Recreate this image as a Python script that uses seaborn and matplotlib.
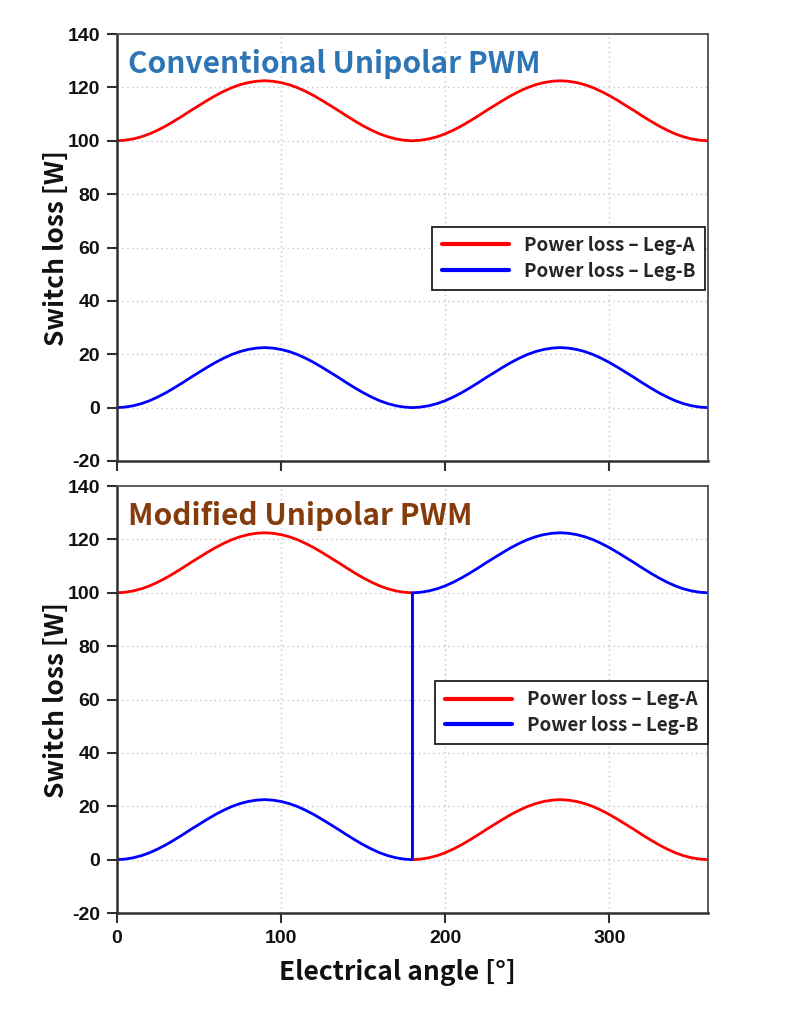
import matplotlib
matplotlib.use("Agg")
import matplotlib.pyplot as plt
import seaborn as sns
import pandas as pd

# ---------------- data (5 degree steps) ----------------
angle = list(range(0, 365, 5))

conv_leg_a = [100.0, 100.2, 100.7, 101.5, 102.6, 104.0, 105.6, 107.4, 109.3, 111.3,
              113.2, 115.1, 116.9, 118.5, 119.9, 121.0, 121.8, 122.3, 122.5, 122.3,
              121.8, 121.0, 119.9, 118.5, 116.9, 115.1, 113.2, 111.3, 109.3, 107.4,
              105.6, 104.0, 102.6, 101.5, 100.7, 100.2, 100.0, 100.2, 100.7, 101.5,
              102.6, 104.0, 105.6, 107.4, 109.3, 111.3, 113.2, 115.1, 116.9, 118.5,
              119.9, 121.0, 121.8, 122.3, 122.5, 122.3, 121.8, 121.0, 119.9, 118.5,
              116.9, 115.1, 113.2, 111.3, 109.3, 107.4, 105.6, 104.0, 102.6, 101.5,
              100.7, 100.2, 100.0]

conv_leg_b = [0.0, 0.2, 0.7, 1.5, 2.6, 4.0, 5.6, 7.4, 9.3, 11.3,
              13.2, 15.1, 16.9, 18.5, 19.9, 21.0, 21.8, 22.3, 22.5, 22.3,
              21.8, 21.0, 19.9, 18.5, 16.9, 15.1, 13.2, 11.3, 9.3, 7.4,
              5.6, 4.0, 2.6, 1.5, 0.7, 0.2, 0.0, 0.2, 0.7, 1.5,
              2.6, 4.0, 5.6, 7.4, 9.3, 11.3, 13.2, 15.1, 16.9, 18.5,
              19.9, 21.0, 21.8, 22.3, 22.5, 22.3, 21.8, 21.0, 19.9, 18.5,
              16.9, 15.1, 13.2, 11.3, 9.3, 7.4, 5.6, 4.0, 2.6, 1.5,
              0.7, 0.2, 0.0]

# modified PWM: the legs swap at 180 degrees (vertical jump)
mod_angle = angle[:37] + angle[36:]
mod_leg_a = conv_leg_a[:37] + conv_leg_b[36:]
mod_leg_b = conv_leg_b[:37] + conv_leg_a[36:]

series_names = ["Power loss \u2013 Leg-A", "Power loss \u2013 Leg-B"]
panel_titles = ["Conventional Unipolar PWM", "Modified Unipolar PWM"]
title_colors = ["#2E75B6", "#843C0C"]
x_ticks = [0, 100, 200, 300]
y_ticks = [-20, 0, 20, 40, 60, 80, 100, 120, 140]

# ---------------- styling ----------------
sns.set_theme(style="white")
plt.rcParams["font.family"] = ["Liberation Sans", "DejaVu Sans"]
plt.rcParams["axes.unicode_minus"] = False
label_font = ["Noto Sans CJK KR", "DejaVu Sans"]

fig, axes = plt.subplots(2, 1, figsize=(8, 10.13), dpi=100, sharex=True)
fig.subplots_adjust(left=0.146, right=0.885, top=0.9664, bottom=0.0987, hspace=0.0587)

palette = {series_names[0]: "#FF0000", series_names[1]: "#0000FF"}

panels = [
    (angle, conv_leg_a, angle, conv_leg_b),
    (mod_angle, mod_leg_a, mod_angle, mod_leg_b),
]

for i, ax in enumerate(axes):
    xa, ya, xb, yb = panels[i]
    df = pd.DataFrame({
        "angle": list(xa) + list(xb),
        "loss": list(ya) + list(yb),
        "series": [series_names[0]] * len(xa) + [series_names[1]] * len(xb),
    })
    sns.lineplot(data=df, x="angle", y="loss", hue="series", palette=palette,
                 estimator=None, sort=False, linewidth=2.0, ax=ax)

    ax.set_xlim(0, 360)
    ax.set_ylim(-20, 140)
    ax.set_xticks(x_ticks)
    ax.set_yticks(y_ticks)
    ax.grid(True, color="#c4c4c4", linestyle=(0, (1, 2.5)), linewidth=1.0)
    ax.set_axisbelow(True)

    for side in ["left", "bottom"]:
        ax.spines[side].set_color("#303030")
        ax.spines[side].set_linewidth(1.8)
    for side in ["top", "right"]:
        ax.spines[side].set_color("#505050")
        ax.spines[side].set_linewidth(1.3)

    ax.tick_params(axis="both", direction="out", length=7, width=1.5,
                   color="#303030", labelsize=14, pad=5,
                   left=True, bottom=True, labelcolor="#111111")
    for lab in ax.get_yticklabels() + ax.get_xticklabels():
        lab.set_fontweight("bold")

    ax.set_ylabel("Switch loss [W]", fontsize=19, fontweight="bold",
                  fontfamily=label_font, color="#111111")
    ax.yaxis.set_label_coords(-0.080, 0.5)
    ax.set_xlabel("")

    ax.text(0.019, 0.908, panel_titles[i], transform=ax.transAxes,
            fontsize=21.5, fontweight="bold", color=title_colors[i],
            ha="left", va="baseline", fontfamily=label_font)

    anchor = (0.995, 0.549) if i == 0 else (1.0, 0.544)
    leg = ax.legend(loc="upper right", bbox_to_anchor=anchor, borderaxespad=0,
                    frameon=True, fancybox=False, framealpha=1, edgecolor="#202020",
                    prop={"weight": "bold", "size": 13.5, "family": label_font},
                    handlelength=3.6, handletextpad=0.8, borderpad=0.5,
                    labelspacing=0.35)
    leg.get_frame().set_linewidth(1.3)
    for h in leg.get_lines():
        h.set_linewidth(3)
    leg.set_title(None)

axes[0].tick_params(labelbottom=False)
axes[1].set_xlabel("Electrical angle [\u00b0]", fontsize=19, fontweight="bold",
                   fontfamily=label_font, color="#111111")
axes[1].xaxis.set_label_coords(0.474, -0.108)

fig.savefig("out.png", dpi=100, facecolor="white")
